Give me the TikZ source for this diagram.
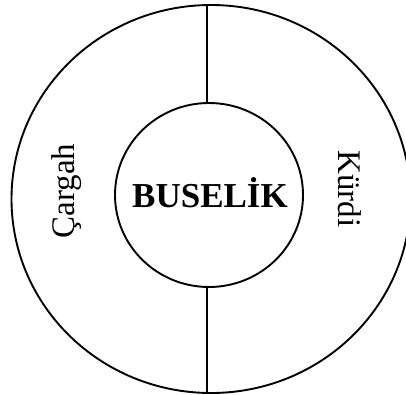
\documentclass[tikz,border=0pt]{standalone}
\usepackage{fontspec}
\setmainfont{Liberation Serif}
\usetikzlibrary{shapes.geometric}
\begin{document}
\begin{tikzpicture}[x=1pt,y=-1pt,
  ring/.style={draw,line width=1.9pt,ellipse,inner sep=0pt},
  lbl/.style={inner sep=0pt,font=\fontsize{33}{33}\selectfont},
  spoke/.style={line width=1.9pt}]
\useasboundingbox (0,0) rectangle (406,394);
\node[ring,minimum width=399pt,minimum height=388pt] (outer) at (211,199) {};
\node[ring,minimum width=188pt,minimum height=184pt] (inner) at (209,195) {};
\node[anchor=base,inner sep=0pt,font=\fontsize{35}{35}\selectfont\bfseries] (bus) at (210,207) {BUSELİK};
\node[lbl,rotate=90] (car) at (67,191) {Çargah};
\node[lbl,rotate=-90] (kur) at (350,189) {Kürdi};
\coordinate (ot) at (207,5);
\coordinate (it) at (207,103);
\coordinate (ib) at (207,287);
\coordinate (ob) at (207,393);
\draw[spoke] (ot) -- (it);
\draw[spoke] (ib) -- (ob);
\end{tikzpicture}
\end{document}
